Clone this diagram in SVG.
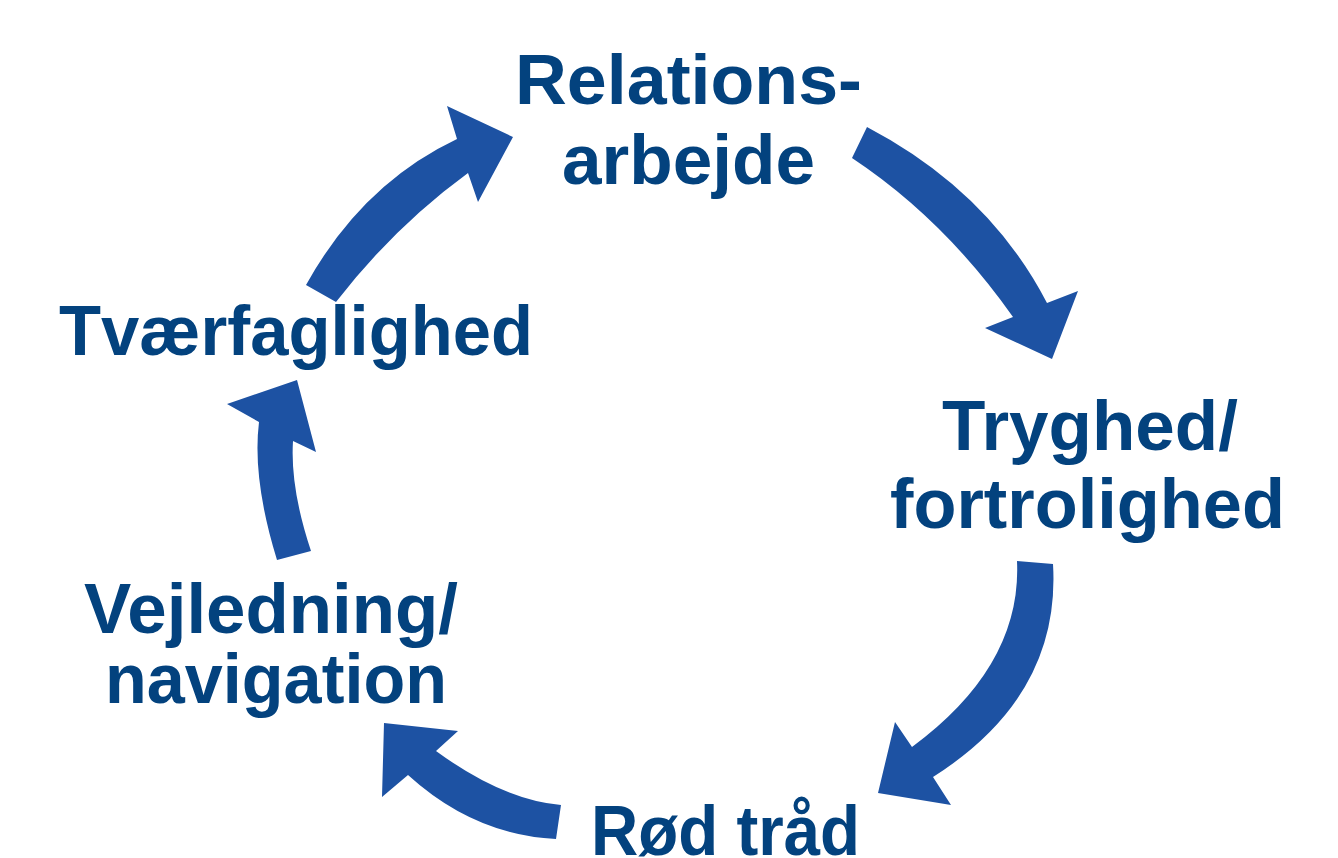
<svg xmlns="http://www.w3.org/2000/svg" width="1338" height="858" viewBox="0 0 1338 858">
<style>
.lbl{font-family:"Liberation Sans",Arial,sans-serif;font-weight:bold;font-size:71px;fill:#03427e;text-anchor:middle}
.arr{fill:#1d52a3;stroke:none}
</style>
<rect width="1338" height="858" fill="#ffffff"/>
<g id="connectors">
<path class="arr" d="M306,285 Q362,184 457,139 L447,106 L513,137 L478,202 L468,173 Q394,227 336,302 Z"/>
<path class="arr" d="M867,127 Q989,191 1047,303 L1078,291 L1052,359 L985,328 L1013,317 Q944,219 852,158 Z"/>
<path class="arr" d="M1053,564 Q1061,696 933,777 L951,805 L878,793 L895,722 L912,747 Q1022,666 1017,561 Z"/>
<path class="arr" d="M561,805 Q503,800 436,751 L458,731 L384,723 L382,797 L408,775 Q474,835 556,839 Z"/>
<path class="arr" d="M311,551 Q290,488 293,441 L316,452 L297,380 L227,404 L259,422 Q252,479 277,560 Z"/>
</g>
<g id="node-relations">
<text class="lbl" x="688.5" y="104" textLength="347" lengthAdjust="spacingAndGlyphs">Relations-</text>
<text class="lbl" x="688.5" y="184" textLength="253" lengthAdjust="spacingAndGlyphs">arbejde</text>
</g>
<g id="node-tryghed">
<text class="lbl" x="1090" y="450" textLength="296" lengthAdjust="spacingAndGlyphs">Tryghed/</text>
<text class="lbl" x="1087.5" y="528" textLength="395" lengthAdjust="spacingAndGlyphs">fortrolighed</text>
</g>
<g id="node-roed-traad">
<text class="lbl" x="725.5" y="855" textLength="269" lengthAdjust="spacingAndGlyphs">Rød tråd</text>
</g>
<g id="node-vejledning">
<text class="lbl" x="271" y="633" textLength="374" lengthAdjust="spacingAndGlyphs">Vejledning/</text>
<text class="lbl" x="276" y="703" textLength="342" lengthAdjust="spacingAndGlyphs">navigation</text>
</g>
<g id="node-tvaerfaglighed">
<text class="lbl" x="296" y="355" textLength="474" lengthAdjust="spacingAndGlyphs">Tværfaglighed</text>
</g>
</svg>
